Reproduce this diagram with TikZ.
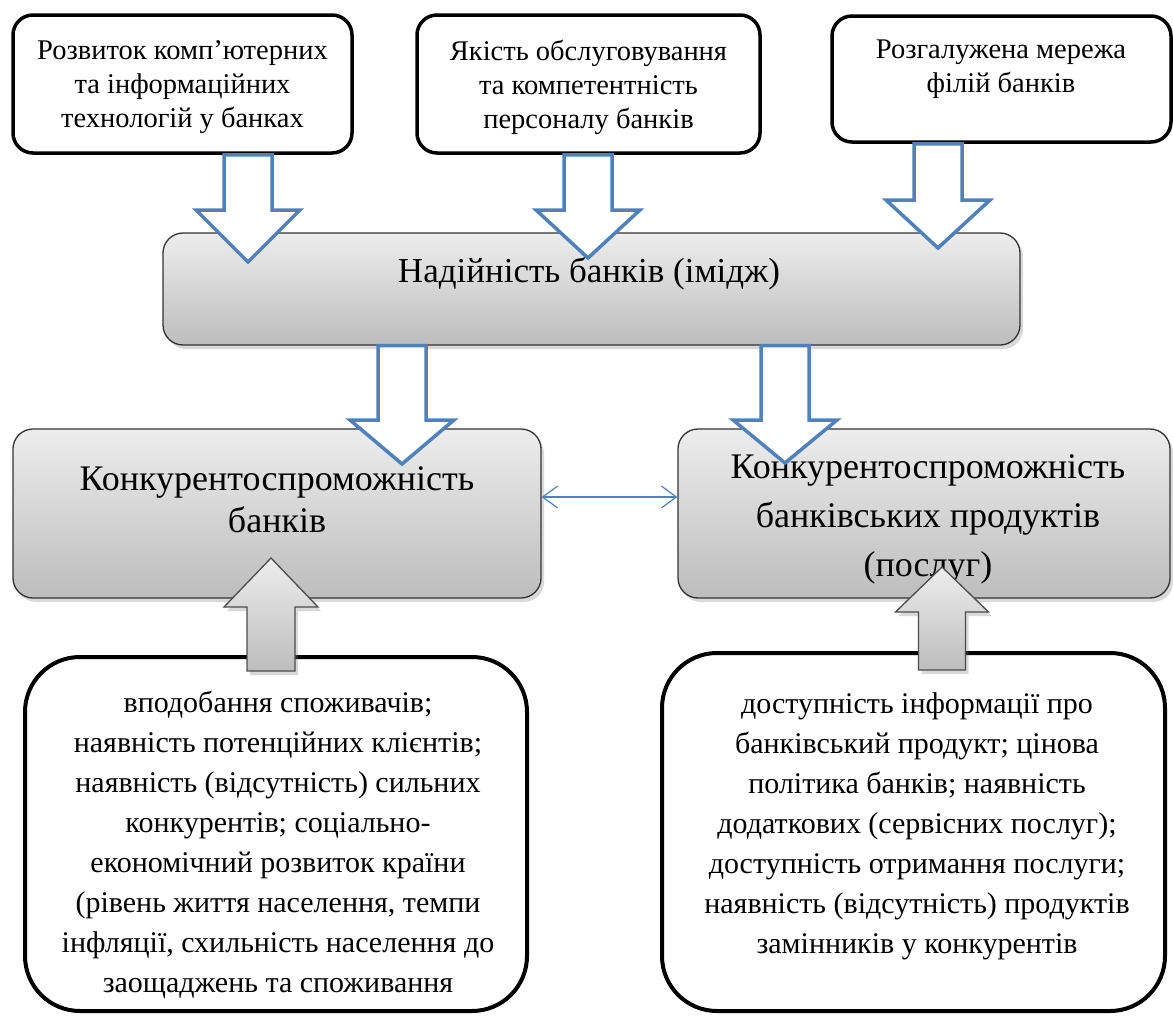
\documentclass[tikz,border=0pt]{standalone}
\usepackage{fontspec}
\setmainfont{Liberation Serif}
\usetikzlibrary{shadows,arrows.meta,calc}
\definecolor{ablue}{HTML}{4F81BD}
\definecolor{gtop}{HTML}{EDEDED}
\definecolor{gbot}{HTML}{BDBDBD}
% #1 start (only y used), #2 tip, #3 half shaft, #4 half head, #5 signed head length, #6 style
\newcommand\blockarrow[6]{%
  \draw[#6] let \p1=(#1), \p2=(#2) in
    (\x2-#3,\y1) -- (\x2-#3,\y2+#5) -- (\x2-#4,\y2+#5) -- (\x2,\y2)
    -- (\x2+#4,\y2+#5) -- (\x2+#3,\y2+#5) -- (\x2+#3,\y1) -- cycle;}
\begin{document}
\begin{tikzpicture}[x=1pt,y=-1pt,
  topbox/.style={draw=black,line width=3.5pt,rounded corners=20pt,fill=white,inner sep=0pt},
  grbox/.style={draw=black!80,line width=1.3pt,rounded corners=20pt,top color=gtop,bottom color=gbot,inner sep=0pt,
    drop shadow={shadow xshift=3pt,shadow yshift=-4pt,opacity=0.3}},
  botbox/.style={draw=black,line width=4pt,rounded corners=55pt,fill=white,inner sep=0pt},
  lbl/.style={align=center,inner sep=0pt,text=black},
  barrow/.style={draw=ablue,line width=3.5pt,fill=white,line join=miter},
  garrow/.style={draw=black!70,line width=1.3pt,top color=gtop,bottom color=gbot,line join=miter,
    drop shadow={shadow xshift=3pt,shadow yshift=-4pt,opacity=0.3}},
  link/.style={draw=ablue,line width=1.2pt,arrows={Straight Barb[length=15pt,width=22pt]-Straight Barb[length=15pt,width=22pt]}}
]
\useasboundingbox (0,0) rectangle (1173,1017);

% boxes
\node[topbox,minimum width=339pt,minimum height=138pt] (t1) at (182.5,84) {};
\node[topbox,minimum width=343pt,minimum height=138pt] (t2) at (588.5,84) {};
\node[topbox,minimum width=339pt,minimum height=126pt] (t3) at (1001.5,79) {};
\node[grbox,minimum width=857pt,minimum height=112pt] (c) at (591.5,289) {};
\node[grbox,minimum width=528pt,minimum height=169pt] (l) at (277,513.5) {};
\node[grbox,minimum width=492pt,minimum height=169pt] (r) at (924,513.5) {};
\node[botbox,minimum width=502pt,minimum height=354pt] (bl) at (276,834) {};
\node[botbox,minimum width=503pt,minimum height=358pt] (br) at (913.5,832) {};

% texts
\node[lbl,font=\fontsize{28.5}{34}\selectfont] (t1txt) at (182.5,87) {Розвиток комп’ютерних\\та інформаційних\\технологій у банках};
\node[lbl,font=\fontsize{28.5}{34}\selectfont] (t2txt) at (588.5,87) {Якість обслуговування\\та компетентність\\персоналу банків};
\node[lbl,font=\fontsize{28.5}{34}\selectfont] (t3txt) at (1001,69) {Розгалужена мережа\\філій банків};
\node[lbl,font=\fontsize{35}{40}\selectfont] (ctxt) at (589,274) {Надійність банків (імідж)};
\node[lbl,font=\fontsize{36}{42}\selectfont] (ltxt) at (277,500) {Конкурентоспроможність\\банків};
\node[lbl,font=\fontsize{36}{49}\selectfont] (rtxt) at (928,519) {Конкурентоспроможність\\банківських продуктів\\(послуг)};
\node[lbl,font=\fontsize{30}{40}\selectfont] (bltxt) at (278,845) {вподобання споживачів;\\наявність потенційних клієнтів;\\наявність (відсутність) сильних\\конкурентів; соціально-\\економічний розвиток країни\\(рівень життя населення, темпи\\інфляції, схильність населення до\\заощаджень та споживання};
\node[lbl,font=\fontsize{30}{40}\selectfont] (brtxt) at (917,826) {доступність інформації про\\банківський продукт; цінова\\політика банків; наявність\\додаткових (сервісних послуг);\\доступність отримання послуги;\\наявність (відсутність) продуктів\\замінників у конкурентів};

% arrow tips
\coordinate (tipA) at (248,262);
\coordinate (tipB) at (588,258);
\coordinate (tipC) at (938,248);
\coordinate (tipD) at (402,464);
\coordinate (tipE) at (785,463);
\coordinate (tipF) at (271,558);
\coordinate (tipG) at (942,567);

% hollow blue arrows
\blockarrow{t1.south}{tipA}{24pt}{52pt}{52pt}{barrow}
\blockarrow{t2.south}{tipB}{24pt}{52pt}{48pt}{barrow}
\blockarrow{t3.south}{tipC}{24pt}{52pt}{48pt}{barrow}
\blockarrow{c.south}{tipD}{24pt}{52pt}{44pt}{barrow}
\blockarrow{c.south}{tipE}{24pt}{52pt}{43pt}{barrow}

% grey up arrows
\blockarrow{[yshift=-16pt]bl.north}{tipF}{24pt}{47pt}{-49pt}{garrow}
\blockarrow{[yshift=-19pt]br.north}{tipG}{23.5pt}{46.5pt}{-45pt}{garrow}

% double arrow
\draw[link] ([yshift=16.5pt]l.east) -- ([yshift=16.5pt]r.west);
\end{tikzpicture}
\end{document}
